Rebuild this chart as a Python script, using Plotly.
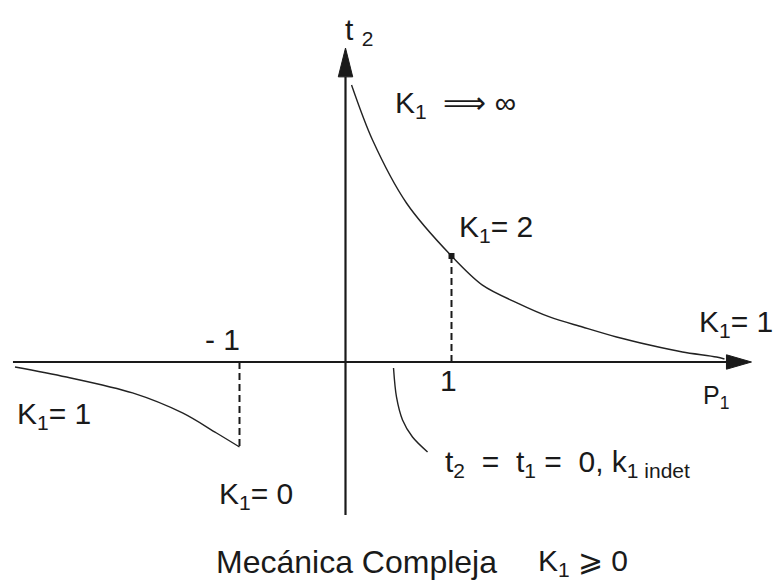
import plotly.graph_objects as go

# Branch for P1 > 0: t2 falls from very large values (K1 -> inf) through K1 = 2 at P1 = 1
right_p1 = [0.057, 0.255, 0.575, 1.0, 1.292, 1.613, 1.925, 2.236, 2.557, 2.868, 3.179, 3.5, 3.575]
right_t2 = [2.613, 2.094, 1.500, 1.0, 0.725, 0.560, 0.425, 0.330, 0.236, 0.160, 0.094, 0.047, 0.028]

# Branch for P1 < -1: t2 negative, ending at K1 = 0 at P1 = -1
left_p1 = [-3.118, -2.632, -2.009, -1.538, -1.217, -1.0]
left_t2 = [-0.047, -0.142, -0.292, -0.481, -0.670, -0.802]

# Leader line pointing at the gap where t2 = t1 = 0
lead_p1 = [0.453, 0.481, 0.538, 0.632, 0.774]
lead_t2 = [-0.057, -0.330, -0.547, -0.708, -0.849]

# Marked point K1 = 2
mark_p1 = [1.0]
mark_t2 = [1.0]

# Axis extents (P1 horizontal, t2 vertical)
p1_axis = [-3.137, 3.594]
t2_axis = [-1.443, 2.69]
p1_tip = 3.83
t2_tip = 2.962

X_RANGE = [-3.2594, 4.0519]
Y_RANGE = [-2.0566, 3.4151]

INK = "#1a1a1a"
CURVE = "#222222"
FONT = "Liberation Sans, Arial, sans-serif"

fig = go.Figure()

# axes
fig.add_trace(go.Scatter(x=p1_axis, y=[0, 0], mode="lines",
                         line=dict(color=INK, width=2.2), hoverinfo="skip"))
fig.add_trace(go.Scatter(x=[0, 0], y=t2_axis, mode="lines",
                         line=dict(color=INK, width=2.2), hoverinfo="skip"))

# arrowheads
hw = 0.068
fig.add_trace(go.Scatter(x=[p1_axis[1], p1_tip, p1_axis[1], p1_axis[1]],
                         y=[hw, 0, -hw, hw], mode="lines", fill="toself",
                         fillcolor=INK, line=dict(color=INK, width=1), hoverinfo="skip"))
fig.add_trace(go.Scatter(x=[-hw, 0, hw, -hw],
                         y=[t2_axis[1], t2_tip, t2_axis[1], t2_axis[1]], mode="lines",
                         fill="toself", fillcolor=INK, line=dict(color=INK, width=1),
                         hoverinfo="skip"))

# curves
for xs, ys in [(right_p1, right_t2), (left_p1, left_t2), (lead_p1, lead_t2)]:
    fig.add_trace(go.Scatter(x=xs, y=ys, mode="lines", line_shape="spline",
                             line=dict(color=CURVE, width=1.4, smoothing=0.9),
                             hoverinfo="skip"))

# dashed drop lines at P1 = 1 and P1 = -1
DASH = dict(color=INK, width=2, dash="7px,4px")
fig.add_trace(go.Scatter(x=[right_p1[3], right_p1[3]], y=[0, right_t2[3]], mode="lines",
                         line=DASH, hoverinfo="skip"))
fig.add_trace(go.Scatter(x=[left_p1[-1], left_p1[-1]], y=[0, left_t2[-1]], mode="lines",
                         line=DASH, hoverinfo="skip"))

fig.add_trace(go.Scatter(x=mark_p1, y=mark_t2, mode="markers",
                         marker=dict(symbol="square", size=6, color=INK), hoverinfo="skip"))

NB = "\u00a0"


def label(text, x, y, size=30, xanchor="left"):
    fig.add_annotation(x=x, y=y, text=text, showarrow=False, xanchor=xanchor,
                       yanchor="middle", font=dict(family=FONT, size=size, color=INK))


label("t" + NB + "<sub>2</sub>", -0.024, 3.115)
label("K<sub>1</sub>" + NB * 2 + "⟹" + NB + "∞", 0.45, 2.43)
label("K<sub>1</sub>= 2", 1.055, 1.26)
label("K<sub>1</sub>= 1", 3.315, 0.36)
label("P<sub>1</sub>", 3.35, -0.33, size=25)
label("-" + NB + "1", -0.976, 0.21, xanchor="right")
label("1", 0.976, -0.17, xanchor="center")
label("K<sub>1</sub>= 1", -3.118, -0.5)
label("K<sub>1</sub>= 0", -1.212, -1.26)
label("t<sub>2</sub>" + NB * 2 + "=" + NB * 2 + "t<sub>1</sub>" + NB + "=" + NB * 2 + "0,"
      + NB + "k<sub>1" + NB + "indet</sub>", 0.92, -0.96)
label("Mecánica Compleja", -1.245, -1.887, size=32)
label("K<sub>1</sub>" + NB + "⩾" + NB + "0", 1.80, -1.887)

fig.update_layout(
    width=775, height=580,
    margin=dict(l=0, r=0, t=0, b=0),
    paper_bgcolor="white", plot_bgcolor="white",
    showlegend=False,
    xaxis=dict(range=X_RANGE, visible=False, fixedrange=True),
    yaxis=dict(range=Y_RANGE, visible=False, fixedrange=True),
)

fig.write_html("out.html")
